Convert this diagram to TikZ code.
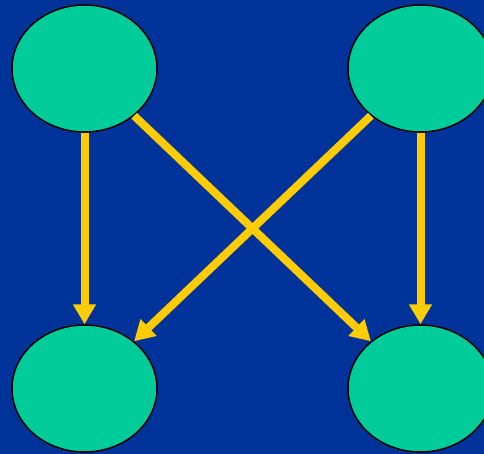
\documentclass[tikz,border=0pt]{standalone}
\usepackage{tikz}
\usetikzlibrary{arrows.meta,positioning,shapes.geometric}
\usepackage{xcolor}
\definecolor{bgblue}{RGB}{0,51,153}
\definecolor{blobgreen}{RGB}{0,204,153}
\definecolor{arryellow}{RGB}{255,204,0}
\tikzset{
  blob/.style={draw=black, line width=1.5pt, ellipse, minimum width=145pt, minimum height=127pt, inner sep=0pt, fill=blobgreen},
  arr/.style={draw=arryellow, line width=8pt, -{Triangle[width=22pt,length=20pt]}, arryellow},
}
\begin{document}
\begin{tikzpicture}[x=1pt, y=-1pt]
\useasboundingbox (0,0) rectangle (484,454);
\clip (0,0) rectangle (484,454);
\fill[bgblue] (0,0) rectangle (484,454);
\node[blob] (tl) at (84.5,68.5) {};
\node[blob] (tr) at (420.5,68.5) {};
\node[blob] (bl) at (84.5,388.5) {};
\node[blob] (br) at (420.5,388.5) {};
\draw[arr] (tl) -- (bl);
\draw[arr] (tr) -- (br);
\draw[arr] (tl) -- (br);
\draw[arr] (tr) -- (bl);
\end{tikzpicture}
\end{document}
